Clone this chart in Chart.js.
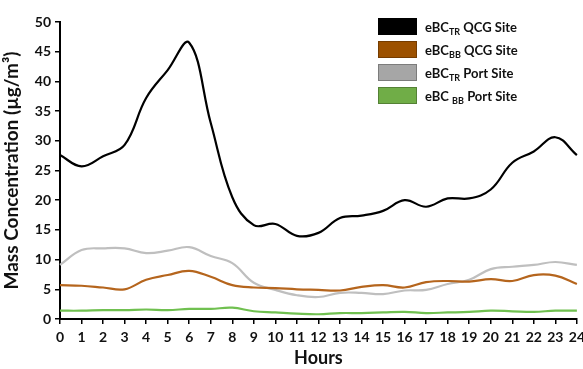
<!DOCTYPE html>
<html>
<head>
<meta charset="utf-8">
<script src="https://cdn.jsdelivr.net/npm/chart.js@4"></script>
<style>
  html, body { margin: 0; padding: 0; background: #fff; overflow: hidden; }
  #wrap { position: relative; width: 590px; height: 369px; }
  #legend { position: absolute; left: 378px; top: 18px; font-family: Lato, 'Open Sans', sans-serif; font-weight: bold; font-size: 13px; color: #111; }
  .row { display: flex; align-items: center; height: 17px; margin-bottom: 6px; }
  .box { width: 39px; height: 17px; margin-right: 8px; box-sizing: border-box; border: 1px solid rgba(0,0,0,0.25); }
  sub { font-size: 9px; vertical-align: -3px; line-height: 0; }
</style>
</head>
<body>
<div id="wrap">
  <canvas id="chart" width="590" height="369"></canvas>
  <div id="legend"></div>
</div>
<script>
// --- Data ---
const hours = ['0','1','2','3','4','5','6','7','8','9','10','11','12','13','14','15','16','17','18','19','20','21','22','23','24'];
const trQcg  = [27.6, 25.7, 27.4, 29.3, 37.2, 41.9, 46.5, 33.0, 20.5, 15.8, 16.0, 14.0, 14.5, 17.0, 17.4, 18.2, 20.0, 18.9, 20.3, 20.3, 21.8, 26.3, 28.2, 30.6, 27.6];
const bbQcg  = [5.7, 5.6, 5.3, 5.0, 6.6, 7.4, 8.1, 7.1, 5.7, 5.3, 5.2, 5.0, 4.9, 4.8, 5.4, 5.7, 5.3, 6.2, 6.4, 6.3, 6.7, 6.4, 7.4, 7.3, 5.9];
const trPort = [9.1, 11.6, 11.9, 11.9, 11.1, 11.5, 12.1, 10.6, 9.4, 6.1, 4.9, 4.0, 3.7, 4.4, 4.4, 4.2, 4.8, 4.9, 5.9, 6.6, 8.4, 8.8, 9.1, 9.6, 9.1];
const bbPort = [1.4, 1.4, 1.5, 1.5, 1.6, 1.5, 1.7, 1.7, 1.9, 1.3, 1.1, 0.9, 0.8, 1.0, 1.0, 1.1, 1.2, 1.0, 1.1, 1.2, 1.4, 1.3, 1.2, 1.4, 1.4];

const series = [
  { html: 'eBC<sub>TR</sub> QCG Site',  data: trQcg,  line: '#000000', box: '#000000' },
  { html: 'eBC<sub>BB</sub> QCG Site',  data: bbQcg,  line: '#b5651d', box: '#9c5100' },
  { html: 'eBC<sub>TR</sub> Port Site', data: trPort, line: '#bfbfbf', box: '#a6a6a6' },
  { html: 'eBC <sub>BB</sub> Port Site', data: bbPort, line: '#70c050', box: '#70ad47' }
];

// --- Legend (HTML so subscripts work) ---
const legendEl = document.getElementById('legend');
series.forEach(s => {
  const row = document.createElement('div');
  row.className = 'row';
  row.innerHTML = `<div class="box" style="background:${s.box}"></div><span>${s.html}</span>`;
  legendEl.appendChild(row);
});

// --- Chart ---
const font = { family: "Lato, 'Open Sans', sans-serif", weight: 'bold' };

new Chart(document.getElementById('chart').getContext('2d'), {
  type: 'line',
  data: {
    labels: hours,
    datasets: series.map(s => ({
      label: s.html,
      data: s.data,
      borderColor: s.line,
      borderWidth: 2.2,
      pointRadius: 0,
      tension: 0.4,
      fill: false
    }))
  },
  options: {
    responsive: false,
    animation: false,
    layout: { padding: { top: 22, left: 0, right: 0, bottom: 0 } },
    plugins: { legend: { display: false }, tooltip: { enabled: false } },
    scales: {
      x: {
        offset: false,
        grid: { drawOnChartArea: false, drawTicks: true, tickLength: 5, color: '#000', lineWidth: 1.5 },
        border: { color: '#000', width: 2 },
        ticks: { color: '#111', font: { ...font, size: 14 }, maxRotation: 0, autoSkip: false, padding: 5 },
        title: { display: true, text: 'Hours', color: '#111', font: { ...font, size: 18 }, padding: { top: 0, bottom: 0 } },
        afterFit: (s) => { s.height = 50; }
      },
      y: {
        min: 0, max: 50,
        ticks: { stepSize: 5, color: '#111', font: { ...font, size: 14 }, padding: 4 },
        grid: { drawOnChartArea: false, drawTicks: true, tickLength: 5, color: '#000', lineWidth: 1.5 },
        border: { color: '#000', width: 2 },
        title: { display: true, text: 'Mass Concentration (µg/m³)', color: '#111', font: { ...font, size: 19 }, padding: { top: 0, bottom: 0 } },
        afterFit: (s) => { s.width = 60; }
      }
    }
  }
});
</script>
</body>
</html>
